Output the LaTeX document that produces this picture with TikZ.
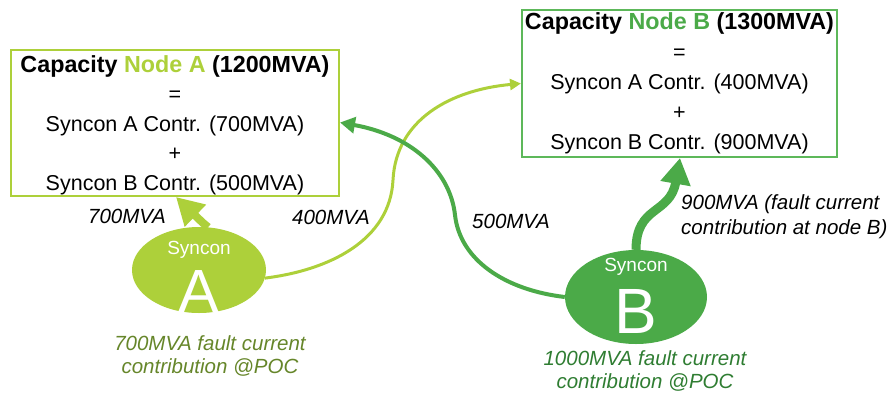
\documentclass[tikz,border=0pt]{standalone}
\usepackage{fontspec}
\setmainfont{Liberation Sans}
\usetikzlibrary{arrows.meta,shapes.geometric}
\definecolor{lgreen}{HTML}{ADD03A}
\definecolor{dgreen}{HTML}{4BAA48}
\definecolor{bgreen}{HTML}{5DB85A}
\definecolor{olivecap}{HTML}{66862A}
\definecolor{darkcap}{HTML}{2F7D32}
\begin{document}
\begin{tikzpicture}[x=1pt,y=-1pt,
  box/.style={draw, line width=2pt, inner sep=0pt, align=center,
    font=\fontsize{21.5}{29.5}\selectfont},
  syn/.style={ellipse, inner sep=0pt},
  synsmall/.style={white, anchor=base, inner sep=0pt, font=\fontsize{19}{19}\selectfont},
  synbig/.style={white, anchor=base, inner sep=0pt},
  lab/.style={anchor=base west, inner sep=0pt, font=\fontsize{20.5}{24}\itshape},
  captext/.style={anchor=north, inner sep=0pt, align=center, font=\fontsize{20.5}{23}\itshape}
]
\useasboundingbox (0,0) rectangle (894,394);

% boxes
\node[box, draw=lgreen, minimum width=328pt, minimum height=146pt] (boxA) at (175,122.5)
  {\rule{0pt}{22pt}{\fontsize{23.3}{29.5}\selectfont\bfseries Capacity \textcolor{lgreen}{Node A} (1200MVA)}\\
   =\\ Syncon A Contr. (700MVA)\\ +\\ Syncon B Contr. (500MVA)};
\node[box, draw=bgreen, minimum width=315pt, minimum height=147pt] (boxB) at (679.5,83.5)
  {{\fontsize{23.3}{30}\selectfont\bfseries Capacity \textcolor{dgreen}{Node B} (1300MVA)}\\[0.5pt]
   =\\[0.5pt] Syncon A Contr. (400MVA)\\[0.5pt] +\\[0.5pt] Syncon B Contr. (900MVA)};

% syncons
\node[syn, fill=lgreen, minimum width=134pt, minimum height=86pt] (synA) at (199,270) {};
\node[synsmall] (synAs) at (199,254) {Syncon};
\node[synbig, font=\fontsize{61}{61}\selectfont] (synAl) at (199,312) {A};
\node[syn, fill=dgreen, minimum width=142pt, minimum height=94pt] (synB) at (636,297) {};
\node[synsmall] (synBs) at (636,271) {Syncon};
\node[synbig, font=\fontsize{64}{64}\selectfont] (synBl) at (636,333) {B};

% connectors
\draw[lgreen, line width=3pt, -{Triangle[width=11pt,length=11pt]}]
  (synA.-7) .. controls (330,270) and (390,240) .. (393,180)
  .. controls (396,120) and (450,90) .. (boxB.west);
\draw[dgreen, line width=4pt, -{Triangle[width=16pt,length=15pt]}]
  (synB.west) .. controls (505,290) and (460,260) .. (455,215)
  .. controls (450,170) and (410,135) .. (boxA.east);
\draw[lgreen, line width=8pt, -{Triangle[width=29pt,length=27pt]}]
  (synA.78) .. controls (204,224) .. (176,197);
\draw[dgreen, line width=9pt, -{Triangle[width=29pt,length=26pt]}]
  (synB.north) .. controls (636,205) and (670,215) .. (680,158);

% labels
\node[lab] (l700) at (88,223) {700MVA};
\node[lab] (l400) at (292,224) {400MVA};
\node[lab] (l500) at (472,228) {500MVA};
\node[anchor=north west, inner sep=0pt, align=left, font=\fontsize{20.5}{25}\itshape] (l900) at (681,194)
  {900MVA (fault current\\ contribution at node B)};
\node[captext, text=olivecap] (capA) at (210,335) {700MVA fault current\\ contribution @POC};
\node[captext, text=darkcap] (capB) at (645,350) {1000MVA fault current\\ contribution @POC};
\end{tikzpicture}
\end{document}
